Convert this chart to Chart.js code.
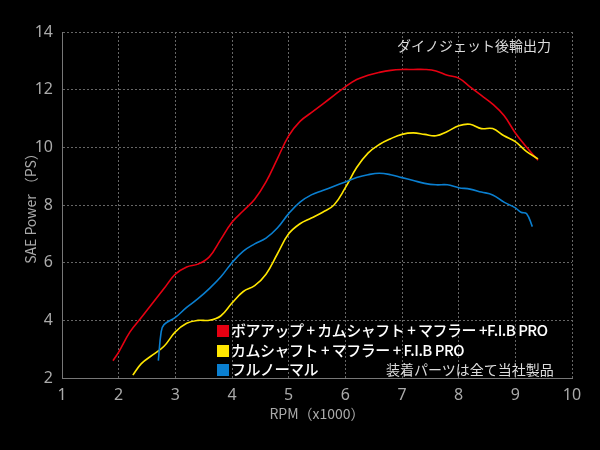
<!DOCTYPE html>
<html><head><meta charset="utf-8">
<script src="https://cdn.jsdelivr.net/npm/chart.js@4"></script>
<style>
body{margin:0;background:#000;}
#w{position:relative;width:600px;height:450px;}
.t{position:absolute;color:#fff;font-family:"Noto Sans CJK JP";white-space:nowrap;}
.sq{display:inline-block;width:12px;height:12px;margin-right:2px;vertical-align:-1px;}
</style></head><body>
<div id="w"><canvas id="c" width="600" height="450"></canvas>
<div class="t" style="left:397px;top:35px;font-size:14px;color:#ddd">ダイノジェット後輪出力</div>
<div class="t" style="left:217px;top:320px;font-size:15px;line-height:19.5px;font-weight:500;letter-spacing:-0.5px">
<div><span class="sq" style="background:#e60012"></span>ボアアップ + カムシャフト + マフラー +F.I.B PRO</div>
<div><span class="sq" style="background:#ffe600"></span>カムシャフト + マフラー + F.I.B PRO</div>
<div><span class="sq" style="background:#0a7fd0"></span>フルノーマル</div></div>
<div class="t" style="left:386px;top:359px;font-size:14px;color:#ddd">装着パーツは全て当社製品</div>
</div>
<script>
const redX=[1.9,2.0,2.2,2.4,2.6,2.8,3.0,3.2,3.4,3.6,3.8,4.0,4.2,4.4,4.6,4.8,5.0,5.2,5.4,5.6,5.8,6.0,6.2,6.4,6.6,6.8,7.0,7.2,7.4,7.6,7.8,8.0,8.2,8.4,8.6,8.8,9.0,9.2,9.4];
const redY=[2.6,2.9,3.6,4.1,4.6,5.1,5.6,5.85,5.95,6.2,6.8,7.4,7.8,8.2,8.8,9.6,10.4,10.9,11.2,11.5,11.8,12.1,12.35,12.5,12.6,12.67,12.7,12.7,12.7,12.65,12.5,12.4,12.1,11.8,11.5,11.1,10.5,10.0,9.55];
const yelX=[2.25,2.4,2.6,2.8,3.0,3.2,3.4,3.6,3.8,4.0,4.2,4.4,4.6,4.8,5.0,5.2,5.4,5.6,5.8,6.0,6.2,6.4,6.6,6.8,7.0,7.2,7.4,7.6,7.8,8.0,8.2,8.4,8.6,8.8,9.0,9.2,9.4];
const yelY=[2.1,2.5,2.8,3.1,3.6,3.9,4.0,4.0,4.15,4.6,5.0,5.2,5.6,6.3,7.0,7.35,7.55,7.75,8.0,8.6,9.3,9.8,10.1,10.3,10.45,10.5,10.45,10.4,10.55,10.75,10.8,10.65,10.65,10.4,10.2,9.85,9.6];
const bluX=[2.7,2.75,2.8,3.0,3.2,3.4,3.6,3.8,4.0,4.2,4.4,4.6,4.8,5.0,5.2,5.4,5.6,5.8,6.0,6.2,6.4,6.6,6.8,7.0,7.2,7.4,7.6,7.8,8.0,8.2,8.4,8.6,8.8,9.0,9.1,9.2,9.3];
const bluY=[2.6,3.6,3.85,4.1,4.45,4.75,5.1,5.5,6.0,6.4,6.65,6.85,7.2,7.7,8.1,8.35,8.5,8.65,8.8,8.95,9.05,9.1,9.05,8.95,8.85,8.75,8.7,8.7,8.6,8.55,8.45,8.35,8.1,7.9,7.75,7.7,7.25];
const pts=(xs,ys)=>xs.map((x,i)=>({x,y:ys[i]}));
const ds=(xs,ys,c)=>({data:pts(xs,ys),borderColor:c,borderWidth:1.6,pointRadius:0,tension:0.4,fill:false,showLine:true});
const grid={color:'#666',drawTicks:false};
const border={color:'#777',dash:[2,2]};
new Chart(document.getElementById('c'),{type:'scatter',
data:{datasets:[ds(bluX,bluY,'#0a7fd0'),ds(yelX,yelY,'#ffe600'),ds(redX,redY,'#e60012')]},
options:{responsive:false,animation:false,layout:{padding:{top:32,right:28,left:0,bottom:0}},
plugins:{legend:{display:false},tooltip:{enabled:false}},
scales:{
x:{type:'linear',min:1,max:10,afterFit:s=>{s.height=72},grid:grid,border:border,
ticks:{stepSize:1,color:'#aaa',padding:8,font:{size:16,family:'Noto Sans'}},
title:{display:true,text:'RPM（x1000）',color:'#aaa',padding:{top:0,bottom:28},font:{size:14,family:'Noto Sans CJK JP'}}},
y:{min:2,max:14,afterFit:s=>{s.width=62},grid:grid,border:border,
ticks:{stepSize:2,color:'#aaa',padding:9,font:{size:16,family:'Noto Sans'}},
title:{display:true,text:'SAE Power （PS）',color:'#aaa',padding:{top:22,bottom:0},font:{size:14,family:'Noto Sans CJK JP'}}}}}});
</script></body></html>
